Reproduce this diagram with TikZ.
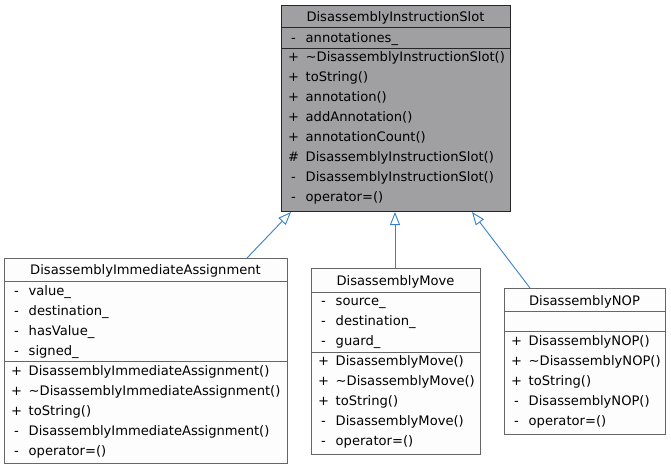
\documentclass[tikz,border=0pt]{standalone}
\usepackage{fontspec}
\setmainfont{DejaVu Sans}
\usetikzlibrary{arrows.meta}
\definecolor{edgeblue}{HTML}{3680CC}
\definecolor{curfill}{HTML}{A09FA1}
\definecolor{curdraw}{HTML}{262626}
\definecolor{boxdraw}{HTML}{666666}
\definecolor{boxfill}{HTML}{FCFDFC}
\newcommand\mem[4]{%
  \node[txt,anchor=base] at (#1+12.5,#2) {#3};
  \node[txt,anchor=base west] at (#1+24.5,#2) {#4};}
\begin{document}
\begin{tikzpicture}[x=1pt,y=-1pt,
  txt/.style={inner sep=0pt,font=\fontsize{13.1}{15}\selectfont},
  curbox/.style={draw=curdraw,fill=curfill,line width=1pt,inner sep=0pt,anchor=north west},
  clsbox/.style={draw=boxdraw,fill=boxfill,line width=1pt,inner sep=0pt,anchor=north west},
  inh/.style={draw=edgeblue,line width=0.9pt,-{Triangle[open,length=13pt,width=10pt]}}]
\useasboundingbox (0,0) rectangle (671,469);
% parent
\node[curbox,minimum width=229pt,minimum height=206pt] (slot) at (281,5) {};
\draw[curdraw,line width=1pt] (281,27) -- (510,27) (281,48) -- (510,48);
\node[txt,anchor=base] (slott) at (395.5,21.5) {DisassemblyInstructionSlot};
\mem{281}{42}{-}{annotationes\_}
\mem{281}{61.5}{+}{\textasciitilde DisassemblyInstructionSlot()}
\mem{281}{81.5}{+}{toString()}
\mem{281}{101.5}{+}{annotation()}
\mem{281}{121.5}{+}{addAnnotation()}
\mem{281}{141.5}{+}{annotationCount()}
\mem{281}{161.5}{\#}{DisassemblyInstructionSlot()}
\mem{281}{181.5}{-}{DisassemblyInstructionSlot()}
\mem{281}{201.5}{-}{operator=()}
% immediate assignment
\node[clsbox,minimum width=283pt,minimum height=205pt] (ia) at (4,258) {};
\draw[boxdraw,line width=1pt] (4,281) -- (287,281) (4,361) -- (287,361);
\node[txt,anchor=base] (iat) at (145.5,274.5) {DisassemblyImmediateAssignment};
\mem{4}{295}{-}{value\_}
\mem{4}{315}{-}{destination\_}
\mem{4}{335}{-}{hasValue\_}
\mem{4}{355}{-}{signed\_}
\mem{4}{375}{+}{DisassemblyImmediateAssignment()}
\mem{4}{395}{+}{\textasciitilde DisassemblyImmediateAssignment()}
\mem{4}{415}{+}{toString()}
\mem{4}{435}{-}{DisassemblyImmediateAssignment()}
\mem{4}{455}{-}{operator=()}
% move
\node[clsbox,minimum width=169pt,minimum height=186pt] (mv) at (311,268) {};
\draw[boxdraw,line width=1pt] (311,292) -- (480,292) (311,352) -- (480,352);
\node[txt,anchor=base] (mvt) at (395.5,285) {DisassemblyMove};
\mem{311}{305}{-}{source\_}
\mem{311}{325}{-}{destination\_}
\mem{311}{345}{-}{guard\_}
\mem{311}{365}{+}{DisassemblyMove()}
\mem{311}{385}{+}{\textasciitilde DisassemblyMove()}
\mem{311}{405}{+}{toString()}
\mem{311}{425}{-}{DisassemblyMove()}
\mem{311}{445}{-}{operator=()}
% nop
\node[clsbox,minimum width=161pt,minimum height=146pt] (nop) at (504,288) {};
\draw[boxdraw,line width=1pt] (504,311) -- (665,311) (504,331) -- (665,331);
\node[txt,anchor=base] (nopt) at (584.5,305.5) {DisassemblyNOP};
\mem{504}{345}{+}{DisassemblyNOP()}
\mem{504}{365}{+}{\textasciitilde DisassemblyNOP()}
\mem{504}{385}{+}{toString()}
\mem{504}{405}{-}{DisassemblyNOP()}
\mem{504}{425}{-}{operator=()}
% inheritance
\draw[inh] ([xshift=243pt]ia.north west) -- ([xshift=10pt]slot.south west);
\draw[inh] ([xshift=84pt]mv.north west) -- ([xshift=114pt]slot.south west);
\draw[inh] ([xshift=26pt]nop.north west) -- ([xshift=191pt]slot.south west);
\end{tikzpicture}
\end{document}
